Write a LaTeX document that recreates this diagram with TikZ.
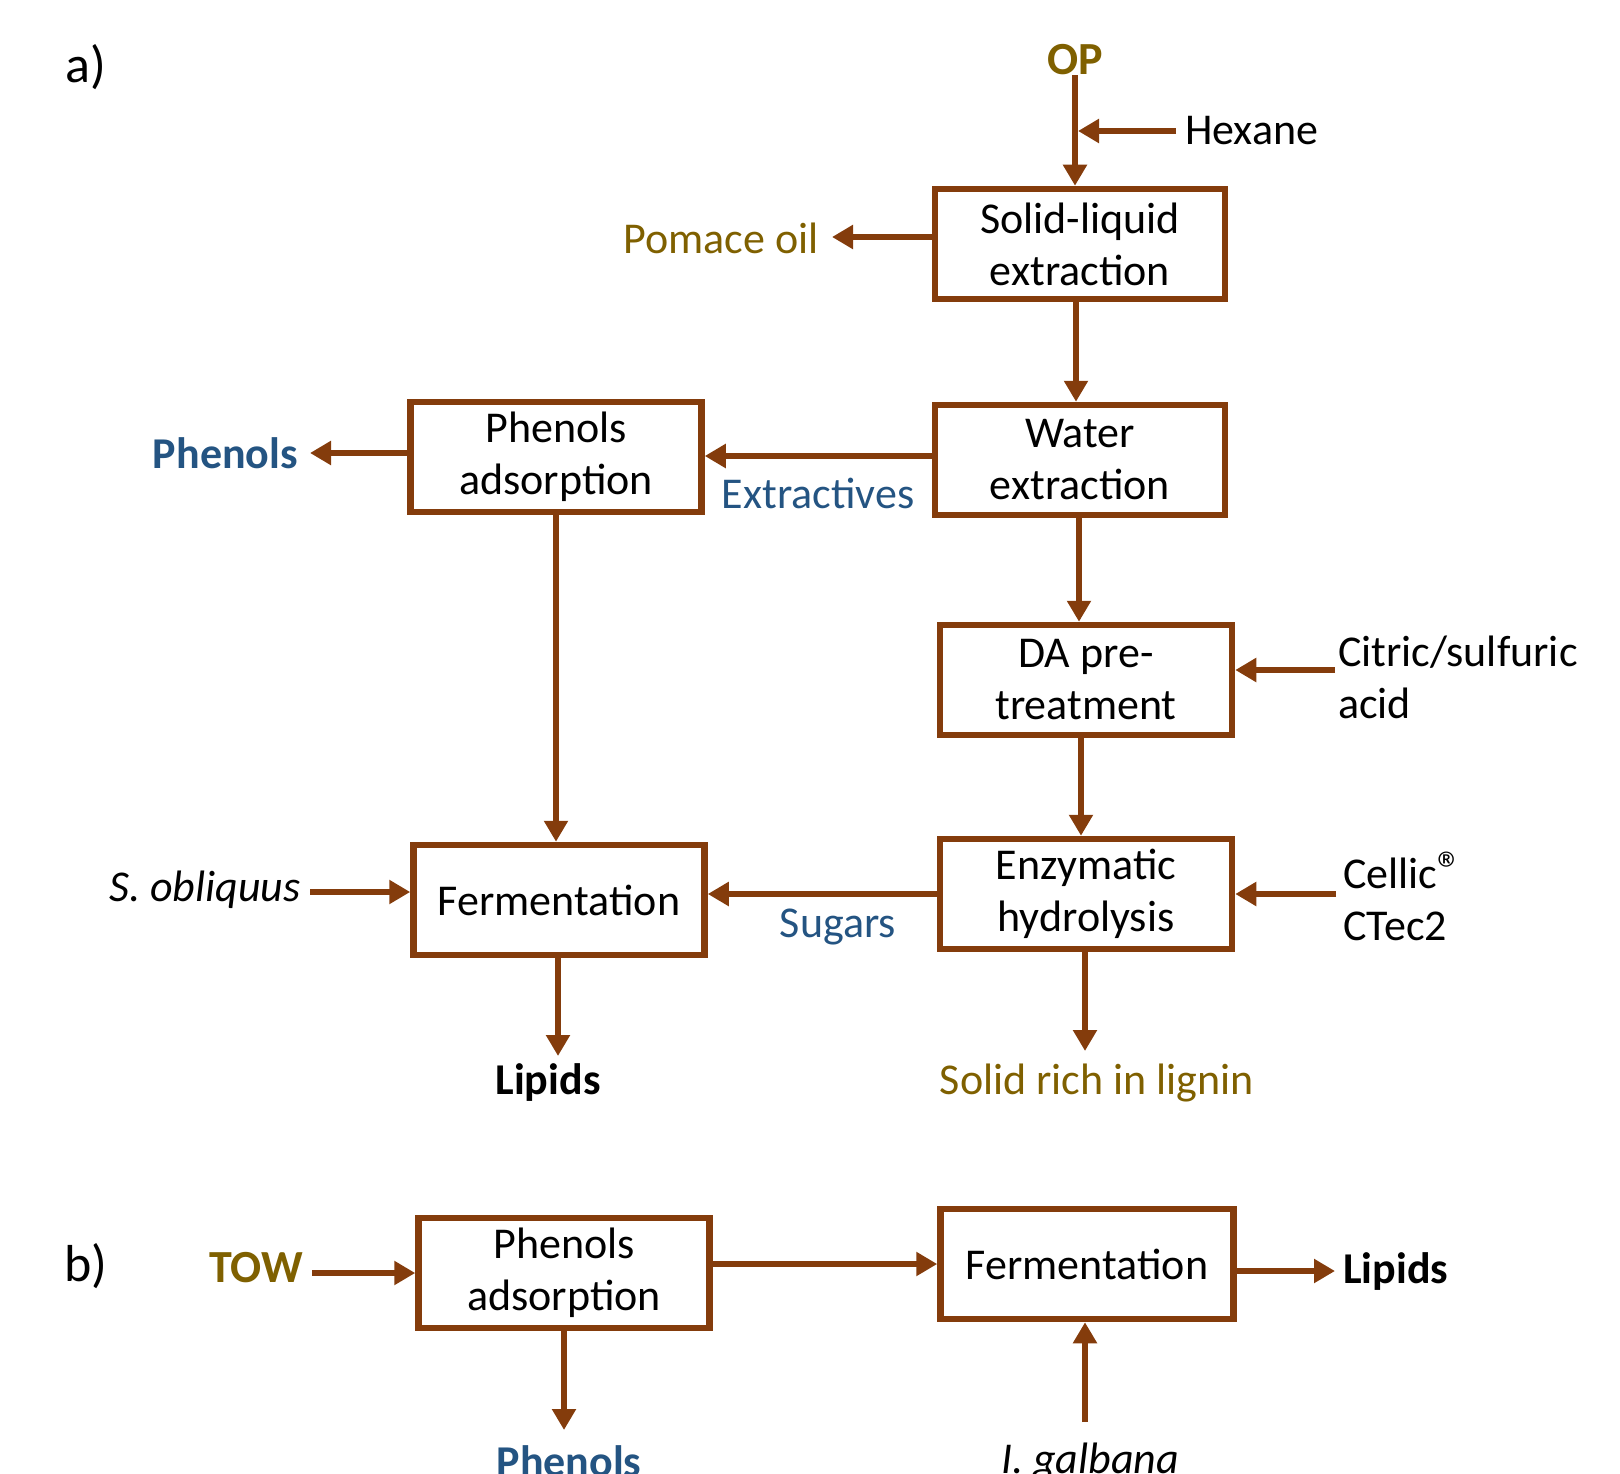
\documentclass[tikz,border=0pt]{standalone}
\usepackage{fontspec}
\setmainfont{Carlito}
\usetikzlibrary{arrows.meta}
\definecolor{brn}{RGB}{132,60,12}
\definecolor{gld}{RGB}{127,96,0}
\definecolor{blu}{RGB}{36,84,130}
\tikzset{
  box/.style={draw=brn, line width=6.5pt, minimum width=291pt, minimum height=110pt, align=center, inner sep=0pt, font=\fontsize{44}{52}\selectfont},
  txt/.style={inner sep=0pt, font=\fontsize{44}{52}\selectfont},
  btxt/.style={inner sep=0pt, font=\fontsize{44}{52}\selectfont\bfseries},
  flow/.style={draw=brn, line width=6pt, -{Triangle[length=21pt,width=23pt]}},
}
\begin{document}
\begin{tikzpicture}[x=1pt,y=-1pt]
\useasboundingbox (0,0) rectangle (1620,1474);
% ---------- a) ----------
\node[txt, font=\fontsize{52}{60}\selectfont] (la) at (86,67) {a)};
\node[btxt, text=gld, font=\fontsize{46}{52}\selectfont\bfseries] (op) at (1075,60) {OP};
\node[txt, anchor=west] (hex) at (1185,131) {Hexane};
\node[box, minimum width=290pt] (sle) at (1080,244) {Solid-liquid\\extraction};
\node[txt, text=gld, anchor=east] (pom) at (819,238) {Pomace oil};
\node[box, minimum width=290pt] (wex) at (1080,460) {Water\\extraction};
\node[box] (pha) at (556,457) {Phenols\\adsorption};
\node[btxt, text=blu, anchor=east] (phe) at (298,453) {Phenols};
\node[txt, text=blu] (ext) at (818,493) {Extractives};
\node[box, minimum width=292pt] (dap) at (1086,680) {DA pre-\\treatment};
\node[txt, anchor=west, align=left] (cit) at (1338,677) {Citric/sulfuric\\acid};
\node[box, minimum width=292pt] (enz) at (1086,894) {Enzymatic\\hydrolysis};
\node[txt, anchor=west, align=left] (cel) at (1343,896) {Cellic\raisebox{2pt}{\fontsize{50}{50}\selectfont\textregistered}\\CTec2};
\node[box] (fera) at (559,900) {Fermentation};
\node[txt, text=blu] (sug) at (838,927) {Sugars};
\node[txt, anchor=east] (sob) at (301,890) {\itshape S. obliquus};
\node[btxt] (lipa) at (548,1083) {Lipids};
\node[txt, text=gld] (srl) at (1097,1083) {Solid rich in lignin};
% connectors a)
\draw[flow] (op.south) -- (op.south |- sle.north);
\draw[flow, shorten >=3pt] (hex.west) ++(-9,0) -- (hex.west -| op.south);
\draw[flow] (sle.west |- 0,237) -- ([xshift=13pt]pom.east |- 0,237);
\draw[flow] (sle.south -| 1076,0) -- (wex.north -| 1076,0);
\draw[flow] (wex.west |- 0,456) -- (pha.east |- 0,456);
\draw[flow] (pha.west |- 0,453) -- ([xshift=12pt]phe.east |- 0,453);
\draw[flow] (pha.south) -- (pha.south |- fera.north);
\draw[flow] (wex.south -| 1079,0) -- (dap.north -| 1079,0);
\draw[flow] ([xshift=-3pt]cit.west |- 0,670) -- (dap.east |- 0,670);
\draw[flow] (dap.south -| 1081,0) -- (enz.north -| 1081,0);
\draw[flow] ([xshift=-7pt]cel.west |- enz.east) -- (enz.east);
\draw[flow] (enz.west) -- (fera.east |- enz.west);
\draw[flow] ([xshift=9pt]sob.east |- 0,892) -- (fera.west |- 0,892);
\draw[flow] (fera.south -| 558,0) -- (558,1056);
\draw[flow] (enz.south -| 1085,0) -- (1085,1051);
% ---------- b) ----------
\node[txt, font=\fontsize{52}{60}\selectfont] (lb) at (86,1266) {b)};
\node[btxt, text=gld, font=\fontsize{46}{52}\selectfont\bfseries] (tow) at (256,1268) {TOW};
\node[box] (phb) at (564,1273) {Phenols\\adsorption};
\node[box, minimum width=293pt] (ferb) at (1087,1264) {Fermentation};
\node[btxt, anchor=west] (lipb) at (1343,1272) {Lipids};
\node[btxt, text=blu, anchor=base] (pheb) at (569,1476) {Phenols};
\node[txt, anchor=base] (iga) at (1090,1473) {\itshape I. galbana};
\draw[flow] ([xshift=9pt]tow.east |- phb.west) -- (phb.west);
\draw[flow] (phb.east |- 0,1264) -- (ferb.west);
\draw[flow] (ferb.east |- 0,1271) -- ([xshift=-8pt]lipb.west |- 0,1271);
\draw[flow] (phb.south) -- (564,1430);
\draw[flow] (1085,1422) -- (ferb.south -| 1085,0);
\end{tikzpicture}
\end{document}
